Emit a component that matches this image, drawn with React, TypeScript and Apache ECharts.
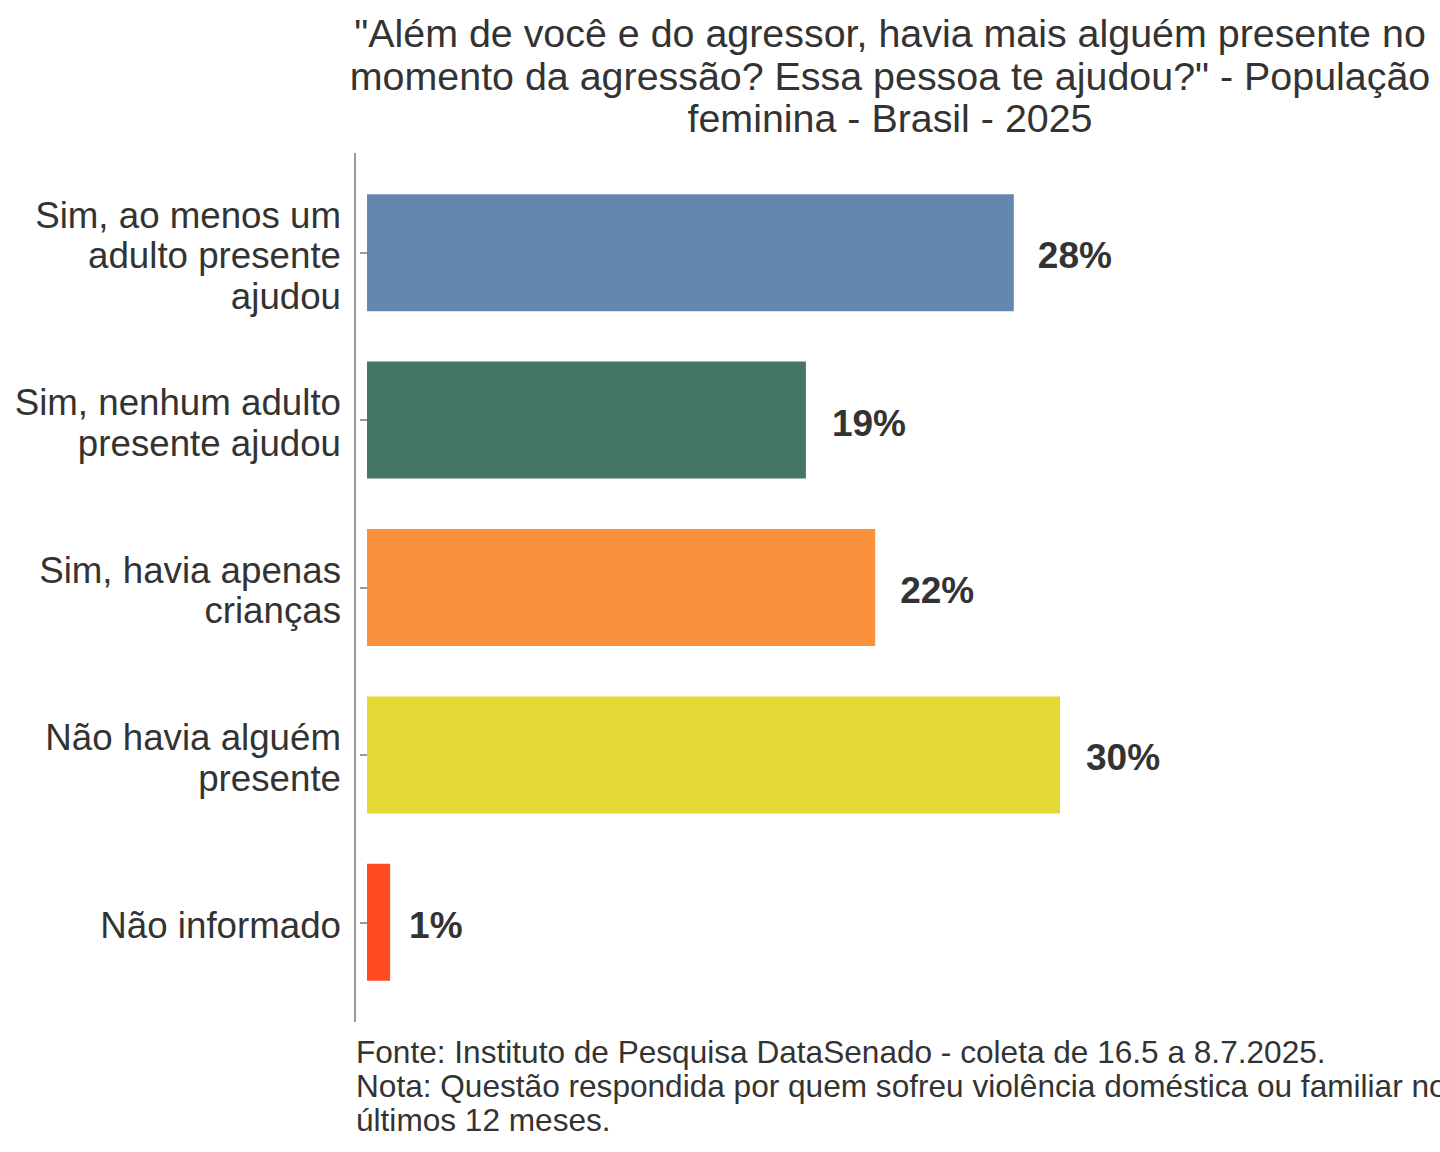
import React, { useEffect, useRef } from "react";
import * as echarts from "echarts";

const categories = [
  "Sim, ao menos um\nadulto presente\najudou",
  "Sim, nenhum adulto\npresente ajudou",
  "Sim, havia apenas\ncrianças",
  "Não havia alguém\npresente",
  "Não informado",
];
const values = [28, 19, 22, 30, 1];
const colors = ["#6487AF", "#457563", "#FA913D", "#E5D834", "#FF4A22"];
const labelGaps = [24, 26, 25, 26, 19];
const titleText =
  '"Além de você e do agressor, havia mais alguém presente no\nmomento da agressão? Essa pessoa te ajudou?" - População\nfeminina - Brasil - 2025';
const captionText =
  "Fonte: Instituto de Pesquisa DataSenado - coleta de 16.5 a 8.7.2025.\nNota: Questão respondida por quem sofreu violência doméstica ou familiar nos\núltimos 12 meses.";

const FONT = "'Liberation Sans', Arial, sans-serif";
const TEXT = "#333333";

export default function App() {
  const ref = useRef<HTMLDivElement>(null);
  useEffect(() => {
    if (!ref.current) return;
    const chart = echarts.init(ref.current, undefined, { renderer: "svg" });
    chart.setOption({
      animation: false,
      backgroundColor: "#ffffff",
      grid: [
        { left: 355, right: 0, top: 169, bottom: 146, containLabel: false },
        { left: 355, right: 0, top: 172, bottom: 143, containLabel: false },
      ],
      xAxis: [
        { type: "value", gridIndex: 0, min: -0.52, max: 46.45, show: false },
        { type: "value", gridIndex: 1, min: -0.52, max: 46.45, show: false },
      ],
      yAxis: [
        {
          type: "category",
          gridIndex: 0,
          data: categories,
          inverse: true,
          axisLine: { show: false },
          axisTick: {
            show: true,
            alignWithLabel: true,
            length: 7,
            lineStyle: { color: "#999999", width: 2 },
          },
          axisLabel: { show: false },
        },
        {
          type: "category",
          gridIndex: 1,
          data: categories,
          inverse: true,
          axisLine: { show: false },
          axisTick: { show: false },
          axisLabel: {
            fontFamily: FONT,
            fontSize: 36.7,
            lineHeight: 40.5,
            color: TEXT,
            margin: 14,
            align: "right",
          },
        },
      ],
      series: [
        {
          type: "bar",
          xAxisIndex: 0,
          yAxisIndex: 0,
          data: values.map((v, i) => ({
            value: v,
            itemStyle: { color: colors[i] },
            label: { distance: labelGaps[i] },
          })),
          barWidth: 117,
          label: {
            show: true,
            position: "right",
            distance: 24,
            offset: [0, 3],
            formatter: "{c}%",
            fontFamily: FONT,
            fontWeight: "bold",
            fontSize: 37,
            color: TEXT,
          },
        },
      ],
      graphic: [
        {
          type: "line",
          shape: { x1: 355, y1: 153, x2: 355, y2: 1022 },
          style: { stroke: "#999999", lineWidth: 2 },
          silent: true,
        },
        {
          type: "text",
          x: 890,
          y: 75.5,
          style: {
            text: titleText,
            fontFamily: FONT,
            fontSize: 39.4,
            lineHeight: 42.5,
            fill: TEXT,
            textAlign: "center",
            textVerticalAlign: "middle",
          },
        },
        {
          type: "text",
          x: 356,
          y: 1086,
          style: {
            text: captionText,
            fontFamily: FONT,
            fontSize: 31.6,
            lineHeight: 34,
            fill: TEXT,
            textAlign: "left",
            textVerticalAlign: "middle",
          },
        },
      ],
    });
    return () => chart.dispose();
  }, []);
  return (
    <div
      ref={ref}
      style={{ position: "absolute", left: 0, top: 0, width: 1440, height: 1152 }}
    />
  );
}
